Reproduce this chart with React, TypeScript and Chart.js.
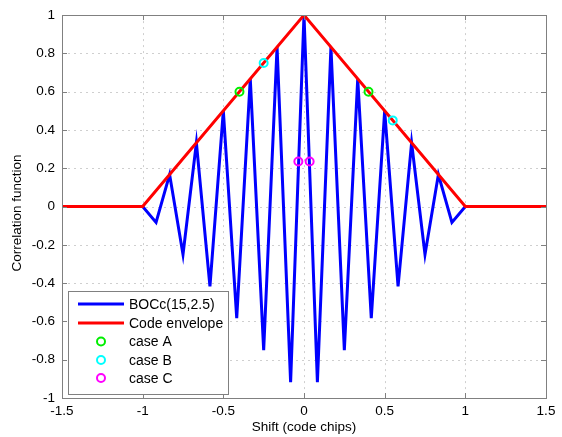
import React, { useEffect, useRef } from "react";
import { Chart, registerables } from "chart.js";

Chart.register(...registerables);

const xTicks = [-1.5, -1, -0.5, 0, 0.5, 1, 1.5];
const yTicks = [-1, -0.8, -0.6, -0.4, -0.2, 0, 0.2, 0.4, 0.6, 0.8, 1];

const bocX = [-1.5, -1, -0.917, -0.833, -0.75, -0.667, -0.583, -0.5, -0.417, -0.333, -0.25, -0.167, -0.083, 0,
  0.083, 0.167, 0.25, 0.333, 0.417, 0.5, 0.583, 0.667, 0.75, 0.833, 0.917, 1, 1.5];
const bocY = [0, 0, -0.083, 0.167, -0.25, 0.333, -0.417, 0.5, -0.583, 0.667, -0.75, 0.833, -0.917, 1,
  -0.917, 0.833, -0.75, 0.667, -0.583, 0.5, -0.417, 0.333, -0.25, 0.167, -0.083, 0, 0];

const envX = [-1.5, -1, 0, 1, 1.5];
const envY = [0, 0, 1, 0, 0];

const caseAX = [-0.4, 0.4];
const caseAY = [0.6, 0.6];
const caseBX = [-0.25, 0.55];
const caseBY = [0.75, 0.45];
const caseCX = [-0.035, 0.035];
const caseCY = [0.235, 0.235];

const labels = ["BOCc(15,2.5)", "Code envelope", "case A", "case B", "case C"];
const xTitle = "Shift (code chips)";
const yTitle = "Correlation function";

const FONT = "'Liberation Sans', Arial, Helvetica, sans-serif";

const pts = (xs: number[], ys: number[]) => xs.map((x, i) => ({ x, y: ys[i] }));

const framePlugin = {
  id: "frame",
  beforeDatasetsDraw(chart: any) {
    const { ctx, chartArea: a, scales } = chart;
    const xs = scales.x, ys = scales.y;
    ctx.save();
    ctx.strokeStyle = "#cfcfcf";
    ctx.lineWidth = 1;
    ctx.setLineDash([2, 4]);
    xTicks.forEach((v) => {
      const p = Math.round(xs.getPixelForValue(v)) + 0.5;
      if (p <= a.left + 1 || p >= a.right - 1) return;
      ctx.beginPath();
      ctx.moveTo(p, a.top);
      ctx.lineTo(p, a.bottom);
      ctx.stroke();
    });
    yTicks.forEach((v) => {
      const p = Math.round(ys.getPixelForValue(v)) + 0.5;
      if (p <= a.top + 1 || p >= a.bottom - 1) return;
      ctx.beginPath();
      ctx.moveTo(a.left, p);
      ctx.lineTo(a.right, p);
      ctx.stroke();
    });
    ctx.restore();
  },
  afterDatasetsDraw(chart: any) {
    const { ctx, chartArea: a, scales } = chart;
    const xs = scales.x, ys = scales.y;
    ctx.save();
    ctx.strokeStyle = "#808080";
    ctx.lineWidth = 1;
    ctx.setLineDash([]);
    ctx.strokeRect(Math.round(a.left) + 0.5, Math.round(a.top) + 0.5, Math.round(a.right - a.left), Math.round(a.bottom - a.top));
    const tl = 5;
    xTicks.forEach((v) => {
      const p = Math.round(xs.getPixelForValue(v)) + 0.5;
      ctx.beginPath();
      ctx.moveTo(p, a.bottom);
      ctx.lineTo(p, a.bottom - tl);
      ctx.moveTo(p, a.top);
      ctx.lineTo(p, a.top + tl);
      ctx.stroke();
    });
    yTicks.forEach((v) => {
      const p = Math.round(ys.getPixelForValue(v)) + 0.5;
      ctx.beginPath();
      ctx.moveTo(a.left, p);
      ctx.lineTo(a.left + tl, p);
      ctx.moveTo(a.right, p);
      ctx.lineTo(a.right - tl, p);
      ctx.stroke();
    });

    // axis titles
    ctx.fillStyle = "#000";
    ctx.font = `13.5px ${FONT}`;
    ctx.textAlign = "center";
    ctx.textBaseline = "middle";
    ctx.fillText(xTitle, (a.left + a.right) / 2, 427);
    ctx.save();
    ctx.translate(17, 213);
    ctx.rotate(-Math.PI / 2);
    ctx.fillText(yTitle, 0, 0);
    ctx.restore();

    // legend
    const lx = 68, ly = 291, lw = 160, lh = 103;
    ctx.fillStyle = "#fff";
    ctx.fillRect(lx, ly, lw, lh);
    ctx.strokeStyle = "#808080";
    ctx.strokeRect(lx + 0.5, ly + 0.5, lw, lh);
    const rowY = [304, 323, 341.5, 360, 378];
    const ds = chart.data.datasets;
    ctx.font = `14px ${FONT}`;
    ctx.textAlign = "left";
    ctx.textBaseline = "middle";
    ds.forEach((d: any, i: number) => {
      const y = rowY[i];
      if (d.showLine) {
        ctx.strokeStyle = d.borderColor;
        ctx.lineWidth = 3;
        ctx.beginPath();
        ctx.moveTo(78, y);
        ctx.lineTo(124, y);
        ctx.stroke();
      } else {
        ctx.strokeStyle = d.borderColor;
        ctx.lineWidth = 2;
        ctx.beginPath();
        ctx.arc(101, y, 4, 0, Math.PI * 2);
        ctx.stroke();
      }
      ctx.fillStyle = "#000";
      ctx.fillText(d.label, 129, y + 1);
    });
    ctx.restore();
  },
};

export default function App() {
  const ref = useRef<HTMLCanvasElement | null>(null);
  useEffect(() => {
    if (!ref.current) return;
    const lineDs = (label: string, data: any[], color: string, order: number) => ({
      label, data, borderColor: color, backgroundColor: color, borderWidth: 3,
      pointRadius: 0, showLine: true, order, tension: 0,
    });
    const markDs = (label: string, data: any[], color: string) => ({
      label, data, borderColor: color, backgroundColor: "rgba(0,0,0,0)", borderWidth: 2,
      pointRadius: 4, pointHoverRadius: 4, showLine: false, order: 0,
    });
    const chart = new Chart(ref.current, {
      type: "scatter",
      data: {
        datasets: [
          lineDs(labels[0], pts(bocX, bocY), "#0000ff", 2),
          lineDs(labels[1], pts(envX, envY), "#ff0000", 1),
          markDs(labels[2], pts(caseAX, caseAY), "#00ee00"),
          markDs(labels[3], pts(caseBX, caseBY), "#00ffff"),
          markDs(labels[4], pts(caseCX, caseCY), "#ff00ff"),
        ] as any,
      },
      options: {
        responsive: false,
        animation: false,
        events: [],
        layout: { padding: { left: 0, right: 16, top: 15, bottom: 0 } },
        plugins: { legend: { display: false }, tooltip: { enabled: false } },
        scales: {
          x: {
            type: "linear", min: -1.5, max: 1.5,
            afterBuildTicks: (s: any) => { s.ticks = xTicks.map((v) => ({ value: v })); },
            afterFit: (s: any) => { s.height = 39; },
            grid: { display: false, drawTicks: false },
            border: { display: false },
            ticks: { color: "#000", padding: 5, font: { family: FONT, size: 13.5 }, maxRotation: 0, autoSkip: false,
              callback: (v: any) => String(v) },
          },
          y: {
            type: "linear", min: -1, max: 1,
            afterBuildTicks: (s: any) => { s.ticks = yTicks.map((v) => ({ value: v })); },
            afterFit: (s: any) => { s.width = 62; },
            grid: { display: false, drawTicks: false },
            border: { display: false },
            ticks: { color: "#000", padding: 7, font: { family: FONT, size: 13.5 }, autoSkip: false,
              callback: (v: any) => String(v) },
          },
        },
      } as any,
      plugins: [framePlugin],
    });
    return () => chart.destroy();
  }, []);
  return (
    <div style={{ position: "fixed", left: 0, top: 0, width: 562, height: 437, background: "#fff" }}>
      <canvas ref={ref} width={562} height={437} style={{ width: 562, height: 437, display: "block" }} />
    </div>
  );
}
